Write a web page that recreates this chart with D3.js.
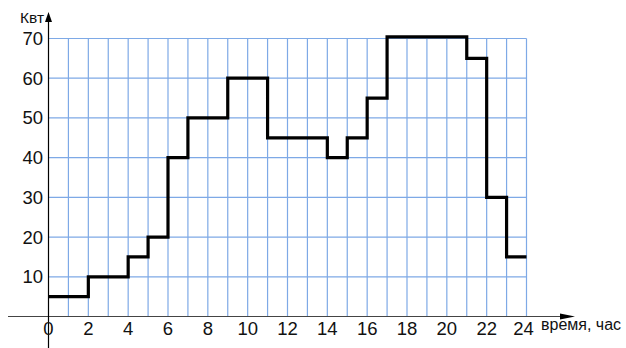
<!DOCTYPE html>
<html><head><meta charset="utf-8">
<script src="https://cdn.jsdelivr.net/npm/d3@7"></script>
<style>body{margin:0;background:#fff}svg{display:block}</style>
</head><body>
<svg id="chart" width="626" height="348"></svg>
<script>
// Power consumption over the day (step chart)
const hourStarts = [0, 2, 4, 5, 6, 7, 9, 11, 14, 15, 16, 17, 21, 22, 23];
const hourEnds   = [2, 4, 5, 6, 7, 9, 11, 14, 15, 16, 17, 21, 22, 23, 24];
const powerKw    = [5, 10, 15, 20, 40, 50, 60, 45, 40, 45, 55, 70.4, 65, 30, 15];
const xTicks = [0, 2, 4, 6, 8, 10, 12, 14, 16, 18, 20, 22, 24];
const yTicks = [10, 20, 30, 40, 50, 60, 70];

const svg = d3.select("#chart");
const x = d3.scaleLinear().domain([0, 24]).range([48.5, 526.5]);
const y = d3.scaleLinear().domain([0, 70]).range([316.5, 38.5]);

// grid
const grid = svg.append("g").attr("stroke", "#7ea9e6").attr("stroke-width", 1.2);
grid.selectAll("line.v").data(d3.range(1, 25)).join("line")
  .attr("x1", d => x(d)).attr("x2", d => x(d))
  .attr("y1", y(70)).attr("y2", y(0));
grid.selectAll("line.h").data(yTicks).join("line")
  .attr("x1", x(0)).attr("x2", x(24))
  .attr("y1", d => y(d)).attr("y2", d => y(d));

// axes
svg.append("line").attr("x1", 8).attr("x2", 565).attr("y1", y(0)).attr("y2", y(0))
  .attr("stroke", "#444").attr("stroke-width", 1.2);
svg.append("path").attr("d", `M575,${y(0)} L560,${y(0)-3} L560,${y(0)+3} Z`).attr("fill", "#000");
svg.append("line").attr("x1", x(0)).attr("x2", x(0)).attr("y1", 348).attr("y2", 20)
  .attr("stroke", "#000").attr("stroke-width", 1.2);
svg.append("path").attr("d", `M${x(0)},12 L${x(0)-3.5},22 L${x(0)+3.5},22 Z`).attr("fill", "#000");

// tick labels
const font = "Liberation Sans, Arial, sans-serif";
svg.append("g").selectAll("text").data(xTicks).join("text")
  .attr("x", d => x(d) - (d === 24 ? 3 : 0)).attr("y", 335).attr("text-anchor", "middle")
  .attr("font-family", font).attr("font-size", 18.5).attr("fill", "#111").text(d => d);
svg.append("g").selectAll("text").data(yTicks).join("text")
  .attr("x", 43).attr("y", d => y(d) + 6.5).attr("text-anchor", "end")
  .attr("font-family", font).attr("font-size", 18.5).attr("fill", "#111").text(d => d);

svg.append("text").attr("x", 20).attr("y", 23).attr("font-family", font)
  .attr("font-size", 15.5).attr("fill", "#111").text("Квт");
svg.append("text").attr("x", 541).attr("y", 330).attr("font-family", font)
  .attr("font-size", 16).attr("fill", "#111").text("время, час");

// step line
const pts = [];
powerKw.forEach((v, i) => { pts.push([hourStarts[i], v]); pts.push([hourEnds[i], v]); });
const line = d3.line().x(d => x(d[0])).y(d => y(d[1]));
svg.append("path").datum(pts).attr("d", line)
  .attr("fill", "none").attr("stroke", "#000").attr("stroke-width", 3.2)
  .attr("stroke-linejoin", "miter");
</script>
</body></html>
